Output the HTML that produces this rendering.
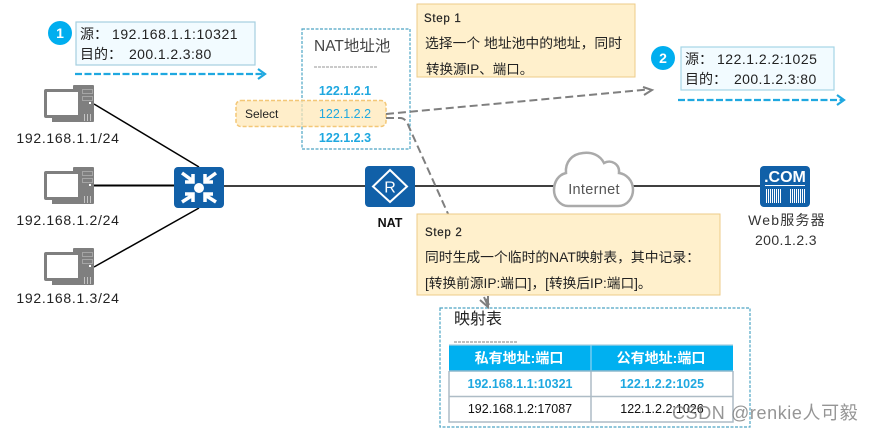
<!DOCTYPE html>
<html><head><meta charset="utf-8"><style>
html,body{margin:0;padding:0;background:#fff}
svg{display:block}
text{font-family:"Liberation Sans","Noto Sans CJK SC",sans-serif;fill:#222}
</style></head><body>
<svg width="874" height="432" viewBox="0 0 874 432" xmlns="http://www.w3.org/2000/svg">
<defs>
<g id="pc">
<rect x="29" y="0" width="21" height="37" rx="1" fill="#7f7f7f"/>
<rect x="38.500" y="4.500" width="10" height="4" fill="none" stroke="#a5a5a5" stroke-width="1"/>
<rect x="38.500" y="11.500" width="10" height="4" fill="none" stroke="#a5a5a5" stroke-width="1"/>
<rect x="0" y="4" width="37" height="29" rx="2" fill="#7f7f7f"/>
<rect x="3" y="7" width="31" height="23" fill="#fff"/>
<rect x="8" y="33" width="29" height="4" fill="#7f7f7f"/>
<rect x="14" y="32" width="11" height="2" fill="#7f7f7f"/>
<rect x="45" y="17" width="2" height="2" fill="#fff"/>
<path d="M40.500 36v-7M43.500 36v-7M46.500 36v-7" stroke="#c4c4c4" stroke-width="1"/>
</g>
</defs>

<!-- connections -->
<g stroke="#000" fill="none">
<path d="M94 104L199 167" stroke-width="1.500"/>
<path d="M94 185.500H174" stroke-width="2"/>
<path d="M94 267L199 208" stroke-width="1.500"/>
<path d="M224 186H365M415 186H555M632 186H760" stroke-width="1.500"/>
</g>

<!-- source box -->
<rect x="76" y="22" width="179" height="43" fill="#f2fbff" stroke="#a5cfe0" stroke-width="1.200"/>
<circle cx="60" cy="33" r="12" fill="#00aeef"/>
<text x="60" y="38" font-size="14" font-weight="700" text-anchor="middle" style="fill:#fff">1</text>
<text x="80" y="39" font-size="14">源：</text>
<text x="112" y="39" font-size="14" letter-spacing=".55">192.168.1.1:10321</text>
<text x="80" y="59" font-size="14">目的：</text>
<text x="129" y="59" font-size="14" letter-spacing=".4">200.1.2.3:80</text>
<path d="M75 74H263" stroke="#1fa8e0" stroke-width="2.200" stroke-dasharray="7 2.500"/>
<path d="M258 69l7 5-7 5" fill="none" stroke="#1fa8e0" stroke-width="2.200"/>

<!-- computers -->
<use href="#pc" x="44" y="85"/>
<use href="#pc" x="44" y="167"/>
<use href="#pc" x="44" y="248"/>
<text x="68" y="143" font-size="14" text-anchor="middle" letter-spacing=".7">192.168.1.1/24</text>
<text x="68" y="225" font-size="14" text-anchor="middle" letter-spacing=".7">192.168.1.2/24</text>
<text x="68" y="303" font-size="14" text-anchor="middle" letter-spacing=".7">192.168.1.3/24</text>

<!-- hub -->
<rect x="174" y="167" width="50" height="41" rx="4" fill="#1160a8"/>
<circle cx="199" cy="188" r="5" fill="#fff"/>
<g stroke="#fff" stroke-width="3.500" fill="none">
<path d="M182 173L193 181M185 182h8v-8"/>
<path d="M216 173L205 181M213 182h-8v-8"/>
<path d="M182 202L193 195M185 194h8v8"/>
<path d="M216 202L205 195M213 194h-8v8"/>
</g>

<!-- NAT pool -->
<rect x="302" y="29" width="108" height="120" fill="#fff" stroke="#4ea5c4" stroke-width="1.200" stroke-dasharray="3 1.500"/>
<text x="314" y="51" font-size="15.500" style="fill:#444">NAT地址池</text>
<path d="M314 67H378" stroke="#aaa" stroke-width="1.200" stroke-dasharray="3 1"/>
<text x="345" y="95" font-size="12.500" font-weight="700" text-anchor="middle" style="fill:#1fa8e0">122.1.2.1</text>
<text x="345" y="142" font-size="12.500" font-weight="700" text-anchor="middle" style="fill:#1fa8e0">122.1.2.3</text>
<rect x="236" y="100.500" width="150" height="26" rx="5" fill="#ffe7b5" fill-opacity=".72" stroke="#f3c777" stroke-width="1.500" stroke-dasharray="4 2"/>
<text x="245" y="118" font-size="12" style="fill:#222">Select</text>
<text x="345" y="118" font-size="12.500" text-anchor="middle" style="fill:#1fa8e0">122.1.2.2</text>

<!-- dashed gray connectors -->
<g fill="none" stroke="#7f7f7f" stroke-width="2">
<path d="M386 114L648 89.500" stroke-dasharray="8 4"/>
<path d="M643 87l9 3-8 5" />
<path d="M386 118H400Q406 118 409 127L489 305" stroke-dasharray="8 4"/>
</g>

<!-- NAT router -->
<rect x="365" y="166" width="50" height="41" rx="4" fill="#1160a8"/>
<path d="M390 170L407 186.500L390 202L373 186.500Z" fill="none" stroke="#fff" stroke-width="2"/>
<text x="390" y="192.500" font-size="16" text-anchor="middle" style="fill:#fff">R</text>
<text x="390" y="227" font-size="12.500" font-weight="700" text-anchor="middle" style="fill:#111">NAT</text>

<!-- Step 1 -->
<rect x="417" y="4" width="218" height="73" fill="#fff0cc" stroke="#eecb88" stroke-width="1"/>
<text x="424" y="22" font-size="11.500" letter-spacing=".7" stroke="#222" stroke-width=".2">Step 1</text>
<text x="425" y="48" font-size="13.800">选择一个 地址池中的地址，同时</text>
<text x="426" y="74" font-size="13.500">转换源IP、端口。</text>

<!-- dest box -->
<rect x="681" y="47" width="153" height="43" fill="#f2fbff" stroke="#a5d5e6" stroke-width="1.200"/>
<circle cx="663" cy="58" r="12" fill="#00aeef"/>
<text x="663" y="63" font-size="14" font-weight="700" text-anchor="middle" style="fill:#fff">2</text>
<text x="685" y="64" font-size="14">源：</text>
<text x="717" y="64" font-size="14" letter-spacing=".5">122.1.2.2:1025</text>
<text x="685" y="84" font-size="14">目的：</text>
<text x="734" y="84" font-size="14" letter-spacing=".4">200.1.2.3:80</text>
<path d="M678 100H842" stroke="#1fa8e0" stroke-width="2.200" stroke-dasharray="7 2.500"/>
<path d="M837 95l7 5-7 5" fill="none" stroke="#1fa8e0" stroke-width="2.200"/>

<!-- cloud -->
<path d="M568 206H618C628 206 633 197 633 190C633 180 626 174 619 173C620 164 611 159 604 163C600 155 592 152 583 153C572 154 565 162 566 173C558 175 554 182 554 190C554 198 560 206 568 206Z" fill="#fff" stroke="#aaa" stroke-width="2.500"/>
<text x="594" y="194" font-size="14.500" text-anchor="middle" style="fill:#555" letter-spacing=".3">Internet</text>

<!-- server -->
<rect x="760" y="166" width="50" height="41" rx="4" fill="#1160a8"/>
<text x="785" y="182" font-size="16" font-weight="700" text-anchor="middle" style="fill:#fff">.COM</text>
<path d="M765 185.500H805" stroke="#fff" stroke-width="1"/>
<path d="M766.500 189v14M768.500 189v14M770.500 189v14M772.500 189v14M774.500 189v14M776.500 189v14M778.500 189v14M780.500 189v14M790.500 189v14M792.500 189v14M794.500 189v14M796.500 189v14M798.500 189v14M800.500 189v14M802.500 189v14M804.500 189v14" stroke="#fff" stroke-width="1"/>
<text x="787" y="225" font-size="14" text-anchor="middle" style="fill:#333" letter-spacing="1.200">Web服务器</text>
<text x="786" y="245" font-size="14" text-anchor="middle" style="fill:#333" letter-spacing=".4">200.1.2.3</text>

<!-- Step 2 -->
<rect x="417" y="214" width="303" height="81" fill="#fff0cc" stroke="#eecb88" stroke-width="1"/>
<text x="425" y="236" font-size="11.500" letter-spacing=".7" stroke="#222" stroke-width=".2">Step 2</text>
<text x="425" y="262" font-size="13.800">同时生成一个临时的NAT映射表，其中记录：</text>
<text x="425" y="288" font-size="13.700">[转换前源IP:端口]，[转换后IP:端口]。</text>

<!-- mapping box -->
<rect x="440" y="308" width="310" height="119" fill="#fff" stroke="#4ea5c4" stroke-width="1.200" stroke-dasharray="3 1.500"/>
<text x="454" y="324" font-size="16" style="fill:#222">映射表</text>
<path d="M454 342H518" stroke="#aaa" stroke-width="1.500" stroke-dasharray="3 1"/>

<!-- gray connector end over box -->
<g fill="none" stroke="#7f7f7f" stroke-width="2">
<path d="M484 297L488 306"/><path d="M480 300l8 7V296"/>
</g>

<rect x="449" y="345" width="284" height="26" fill="#00b0f0"/>
<path d="M449 345H733" stroke="#a9cfe0" stroke-width="1.200"/>
<path d="M591 345V371" stroke="#8fd3ef" stroke-width="1.200"/>
<g stroke="#aebcc6" stroke-width="1.500" fill="none">
<path d="M449 371V422H733V371M449 396.500H733M591 371V422"/>
<path d="M449 371H733" stroke="#8fb8cc"/>
</g>
<text x="519" y="363" font-size="14" font-weight="700" text-anchor="middle" style="fill:#fff">私有地址:端口</text>
<text x="661" y="363" font-size="14" font-weight="700" text-anchor="middle" style="fill:#fff">公有地址:端口</text>
<text x="520" y="388" font-size="12.500" font-weight="700" text-anchor="middle" style="fill:#1fa8e0">192.168.1.1:10321</text>
<text x="662" y="388" font-size="12.500" font-weight="700" text-anchor="middle" style="fill:#1fa8e0">122.1.2.2:1025</text>
<text x="520" y="413" font-size="12.500" text-anchor="middle" style="fill:#111">192.168.1.2:17087</text>
<text x="662" y="413" font-size="12.500" text-anchor="middle" style="fill:#111">122.1.2.2:1026</text>

<!-- watermark -->
<text x="672" y="419" font-size="18" letter-spacing=".6" style="fill:#7a7a7a" fill-opacity=".8">CSDN @renkie人可毅</text>
</svg>
</body></html>
